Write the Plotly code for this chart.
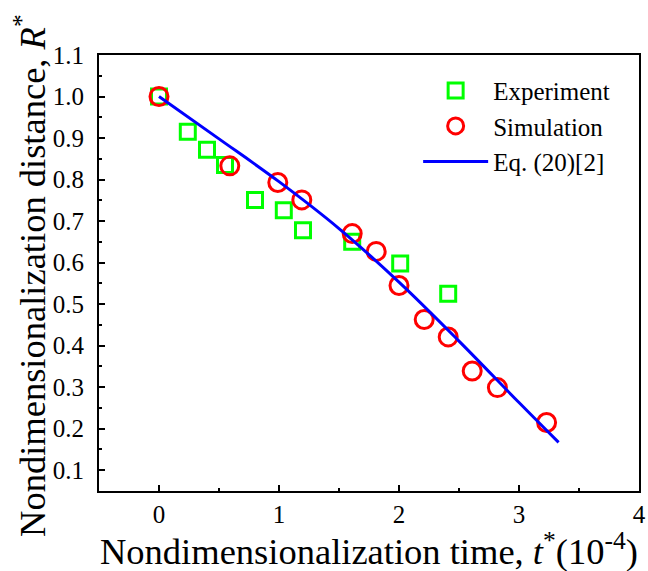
import plotly.graph_objects as go

exp_t = [0.0, 0.24, 0.40, 0.55, 0.80, 1.04, 1.20, 1.61, 2.01, 2.41]
exp_r = [1.0, 0.915, 0.872, 0.835, 0.751, 0.726, 0.678, 0.650, 0.598, 0.525]

sim_t = [0.0, 0.59, 0.99, 1.19, 1.61, 1.81, 2.00, 2.21, 2.41, 2.61, 2.82, 3.23]
sim_r = [1.0, 0.833, 0.793, 0.751, 0.670, 0.627, 0.545, 0.463, 0.421, 0.339, 0.299, 0.215]

eq_t = [0.0, 0.5, 1.0, 1.5, 2.0, 2.5, 3.0, 3.33]
eq_r = [1.0, 0.898, 0.795, 0.682, 0.553, 0.411, 0.263, 0.167]

x_ticks = [0, 1, 2, 3, 4]
y_ticks = [0.1, 0.2, 0.3, 0.4, 0.5, 0.6, 0.7, 0.8, 0.9, 1.0, 1.1]
y_ticktext = ["0.1", "0.2", "0.3", "0.4", "0.5", "0.6", "0.7", "0.8", "0.9", "1.0", "1.1"]

font = "Liberation Serif"

fig = go.Figure()
fig.add_trace(go.Scatter(x=exp_t, y=exp_r, mode="markers", name="Experiment",
                         marker=dict(symbol="square-open", size=15, color="#00FF00",
                                     line=dict(width=3, color="#00FF00"))))
fig.add_trace(go.Scatter(x=sim_t, y=sim_r, mode="markers", name="Simulation",
                         marker=dict(symbol="circle-open", size=18, color="#FF0000",
                                     line=dict(width=3, color="#FF0000"))))
fig.add_trace(go.Scatter(x=eq_t, y=eq_r, mode="lines", name="Eq. (20)[2]",
                         line=dict(color="#0000FF", width=3, shape="spline")))

axis_common = dict(showline=True, linecolor="black", linewidth=2, mirror=True,
                   ticks="inside", ticklen=6, tickwidth=2, tickcolor="black",
                   showgrid=False, zeroline=False, automargin=False,
                   tickfont=dict(family=font, size=25, color="black"))

fig.update_layout(
    width=648, height=571,
    margin=dict(l=99, r=9, t=55, b=80, autoexpand=False),
    plot_bgcolor="white", paper_bgcolor="white",
    font=dict(family=font, color="black"),
    xaxis=dict(range=[-0.5, 4], tickvals=x_ticks, ticklabelstandoff=0,
               minor=dict(ticks="inside", ticklen=3, tickwidth=2, dtick=0.5, tick0=0, tickcolor="black"),
               **axis_common),
    yaxis=dict(range=[0.05, 1.1], tickvals=y_ticks, ticktext=y_ticktext, ticklabelstandoff=8,
               minor=dict(ticks="inside", ticklen=3, tickwidth=2, dtick=0.05, tick0=0.05, tickcolor="black"),
               **axis_common),
    legend=dict(x=0.591, y=0.971, xanchor="left", yanchor="top",
                bgcolor="rgba(0,0,0,0)", itemwidth=65, tracegroupgap=0,
                font=dict(family=font, size=25, color="black")),
    showlegend=True,
    annotations=[
        dict(text="Nondimensionalization time, <i>t</i><sup>*</sup>(10<sup>-4</sup>)",
             xref="paper", yref="paper", x=0.5, y=-0.133, xanchor="center", yanchor="middle",
             showarrow=False, font=dict(family=font, size=36.5, color="black")),
        dict(text="Nondimensionalization distance, <i>R</i><sup>*</sup>",
             xref="paper", yref="paper", x=-0.129, y=0.494, xanchor="center", yanchor="middle",
             textangle=-90, showarrow=False, font=dict(family=font, size=36.5, color="black")),
    ],
)

fig.write_html("out.html", config={"displayModeBar": False},
               post_script="document.body.style.margin='0';document.body.style.padding='0';")
